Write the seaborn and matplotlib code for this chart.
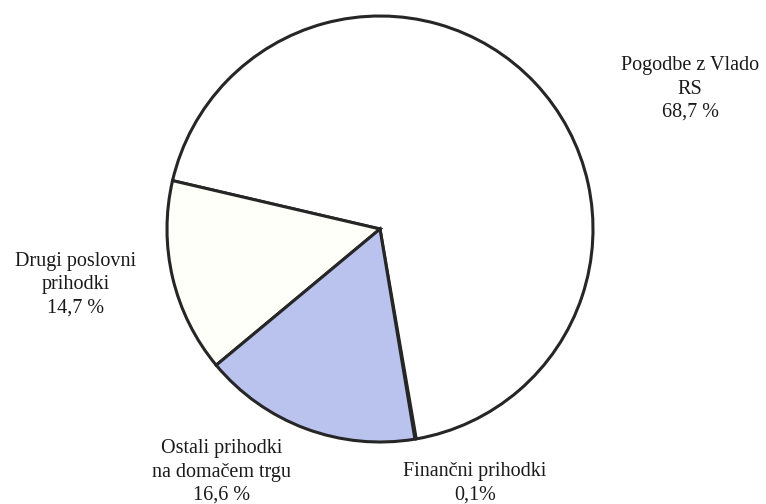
"""
Revenue structure pie chart (scanned report figure recreation).
"""
import matplotlib
matplotlib.use("Agg")
import matplotlib.pyplot as plt
import seaborn as sns

# ── data ────────────────────────────────────────────────────────────────
categories = [
    "Pogodbe z Vlado\nRS",
    "Drugi poslovni\nprihodki",
    "Ostali prihodki\nna domačem trgu",
    "Finančni prihodki",
]
shares = [68.7, 14.7, 16.6, 0.1]
share_labels = ["68,7 %", "14,7 %", "16,6 %", "0,1%"]
slice_colors = ["#ffffff", "#fffffa", "#b9c3ee", "#ffffff"]

sns.set_theme(style="white")
plt.rcParams["font.family"] = ["Liberation Serif", "DejaVu Serif"]

W, H = 766, 504
fig = plt.figure(figsize=(W / 100, H / 100), dpi=100)
ax = fig.add_axes([0, 0, 1, 1])

# pie centre / radius in pixel space (y measured from the top in the scan)
cx, cy, r = 380, H - 229, 213
wedges, _ = ax.pie(
    shares,
    colors=slice_colors,
    startangle=-80.2,
    counterclock=True,
    center=(cx, cy),
    radius=r,
    frame=True,
    wedgeprops=dict(edgecolor="#262626", linewidth=2.2),
)
# the 0.1 % sliver: keep it as one line like in the scan
wedges[3].set_linewidth(1.2)
ax.set_xlim(0, W)
ax.set_ylim(0, H)
ax.set_aspect("equal")
ax.axis("off")

# label block centres (x, y from top)
label_pos = [(690, 89), (76, 285), (222, 472), (475, 483)]
for cat, pct, (lx, ly) in zip(categories, share_labels, label_pos):
    ax.text(
        lx, H - ly, f"{cat}\n{pct}",
        ha="center", va="center", multialignment="center",
        fontsize=14.5, color="#1a1a1a", linespacing=1.3,
    )

fig.savefig("out.png", dpi=100, facecolor="white")
